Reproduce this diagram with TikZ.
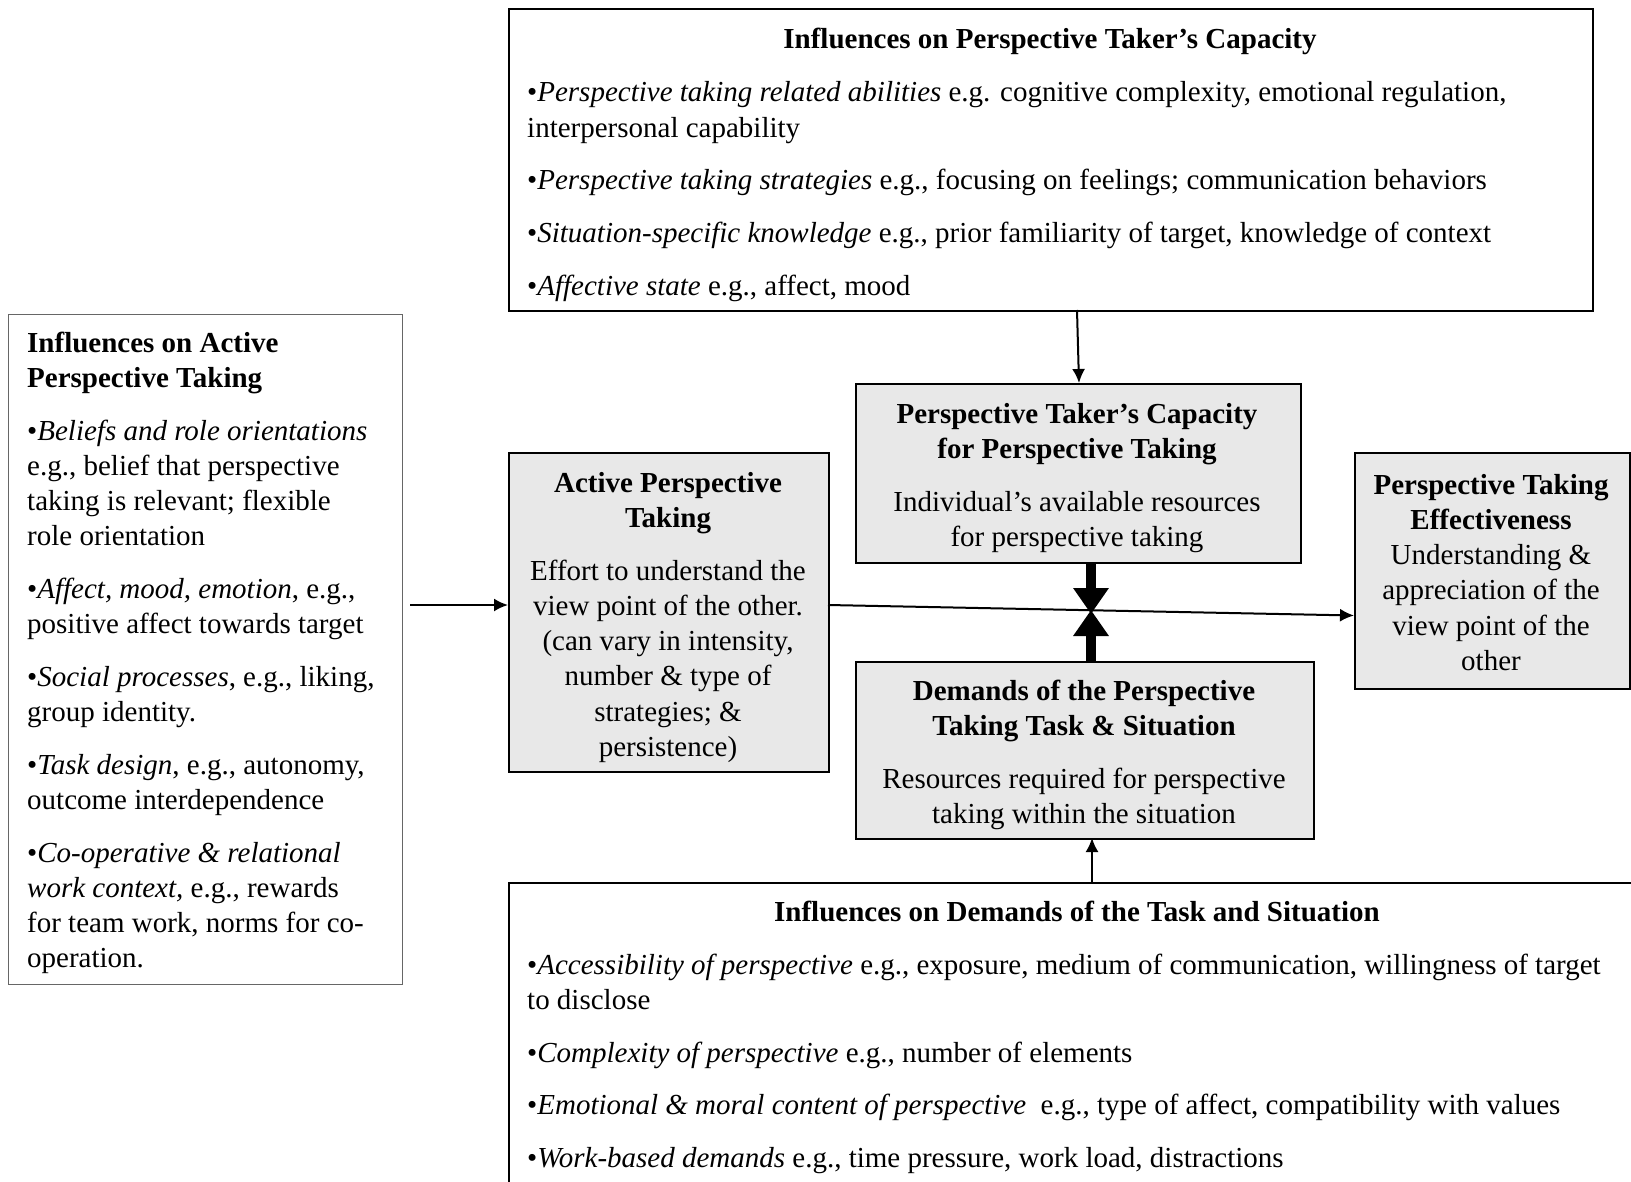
\documentclass[tikz,border=0pt]{standalone}
\usepackage{fontspec}
\setmainfont{Liberation Serif}
\usetikzlibrary{arrows.meta}
\definecolor{boxgray}{RGB}{232,232,232}
\begin{document}
\begin{tikzpicture}[x=1pt,y=-1pt,
  frame/.style={draw=black,line width=2pt,inner sep=0pt,anchor=north west},
  graybox/.style={frame,fill=boxgray},
  txt/.style={inner sep=0pt,font=\fontsize{29}{35.2}\selectfont},
  lefttxt/.style={txt,align=left,anchor=north west},
  ctxt/.style={txt,align=center,anchor=north},
  conn/.style={line width=2pt,-{Latex[length=14pt,width=13pt]}},
  thick arrow/.style={line width=10pt,-{Triangle[length=26pt,width=34pt]},shorten >=-2pt}
]
\useasboundingbox (0,0) rectangle (1631,1182);
\clip (0,0) rectangle (1631,1182);
\fill[white] (0,0) rectangle (1631,1182);

% boxes
\node[frame,minimum width=1084pt,minimum height=302pt] (topbox) at (508,8) {};
\node[frame,draw=black!60,line width=1.3pt,minimum width=394pt,minimum height=670pt] (leftbox) at (8,314) {};
\node[graybox,minimum width=320pt,minimum height=319pt] (active) at (508,452) {};
\node[graybox,minimum width=445pt,minimum height=179pt] (cap) at (855,383) {};
\node[graybox,minimum width=458pt,minimum height=177pt] (dem) at (855,661) {};
\node[graybox,minimum width=275pt,minimum height=236pt] (eff) at (1354,452) {};
\node[frame,minimum width=1138pt,minimum height=330pt] (botbox) at (508,882) {};

% texts
\node[ctxt] (topT) at (1050,24) {\strut\textbf{Influences on Perspective Taker’s Capacity}};
\node[lefttxt] (topB) at (527,77) {\strut•\textit{Perspective taking related abilities} e.g. cognitive complexity, emotional regulation,\\
interpersonal capability\\[17.5pt]
•\textit{Perspective taking strategies} e.g., focusing on feelings; communication behaviors\\[17.5pt]
•\textit{Situation-specific knowledge} e.g., prior familiarity of target, knowledge of context\\[17.5pt]
•\textit{Affective state} e.g., affect, mood};

\node[lefttxt] (leftT) at (27,327.5) {\strut\textbf{Influences on Active}\\
\textbf{Perspective Taking}\\[17.5pt]
•\textit{Beliefs and role orientations}\\
e.g., belief that perspective\\
taking is relevant; flexible\\
role orientation\\[17.5pt]
•\textit{Affect, mood, emotion}, e.g.,\\
positive affect towards target\\[17.5pt]
•\textit{Social processes}, e.g., liking,\\
group identity.\\[17.5pt]
•\textit{Task design}, e.g., autonomy,\\
outcome interdependence\\[17.5pt]
•\textit{Co-operative \& relational}\\
\textit{work context,} e.g., rewards\\
for team work, norms for co-\\
operation.};

\node[ctxt] (activeT) at (668,467.5) {\strut\textbf{Active Perspective}\\
\textbf{Taking}\\[17.5pt]
Effort to understand the\\
view point of the other.\\
(can vary in intensity,\\
number \& type of\\
strategies; \&\\
persistence)};

\node[ctxt] (capT) at (1077,398.5) {\strut\textbf{Perspective Taker’s Capacity}\\
\textbf{for Perspective Taking}\\[17.5pt]
Individual’s available resources\\
for perspective taking};

\node[ctxt] (demT) at (1084,675.5) {\strut\textbf{Demands of the Perspective}\\
\textbf{Taking Task \& Situation}\\[17.5pt]
Resources required for perspective\\
taking within the situation};

\node[ctxt] (effT) at (1491,469.5) {\strut\textbf{Perspective Taking}\\
\textbf{Effectiveness}\\
Understanding \&\\
appreciation of the\\
view point of the\\
other};

\node[ctxt] (botT) at (1077,896.5) {\strut\textbf{Influences on Demands of the Task and Situation}};
\node[lefttxt] (botB) at (527,949.5) {\strut•\textit{Accessibility of perspective} e.g., exposure, medium of communication, willingness of target\\
to disclose\\[17.5pt]
•\textit{Complexity of perspective} e.g., number of elements\\[17.5pt]
•\textit{Emotional \& moral content of perspective}\ \ e.g., type of affect, compatibility with values\\[17.5pt]
•\textit{Work-based demands} e.g., time pressure, work load, distractions};

% connectors
\coordinate (topfoot) at (1077,310);
\coordinate (capin) at (1079,383);
\draw[conn] (topfoot) -- (capin);

\coordinate (leftstart) at (410,605);
\draw[conn] (leftstart) -- (active.west |- leftstart);

\coordinate (mainstart) at (828,605);
\coordinate (mainend) at (1354,615.5);
\draw[conn] (mainstart) -- (mainend);

\coordinate (botstart) at (1092,882);
\coordinate (demin) at (1092,838);
\draw[conn] (botstart) -- (demin);

\coordinate (capout) at (1091,564);
\coordinate (demout) at (1091,663);
\coordinate (meet) at (1091,612);
\draw[thick arrow] (capout) -- (meet);
\draw[thick arrow] (demout) -- (meet);
\end{tikzpicture}
\end{document}
